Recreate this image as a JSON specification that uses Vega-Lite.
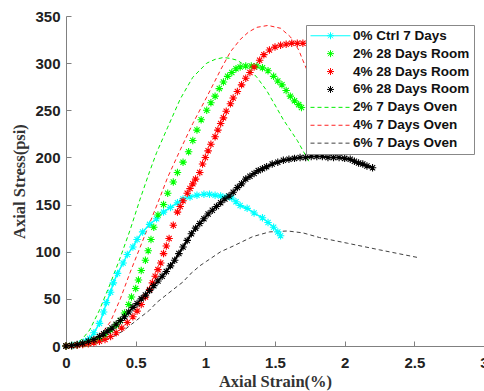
{
"$schema": "https://vega.github.io/schema/vega-lite/v6.json",
"width": 418, "height": 330,
"autosize": {"type": "none"},
"padding": {"left": 66, "top": 16, "right": 0, "bottom": 45},
"background": "white",
"config": {"view": {"stroke": null}},
"data": {"values": [
{"s":"0% Ctrl 7 Days","x":0,"y":0},{"s":"0% Ctrl 7 Days","x":0.05,"y":0.5},{"s":"0% Ctrl 7 Days","x":0.1,"y":2},{"s":"0% Ctrl 7 Days","x":0.14,"y":5},{"s":"0% Ctrl 7 Days","x":0.17,"y":8},{"s":"0% Ctrl 7 Days","x":0.2,"y":14},{"s":"0% Ctrl 7 Days","x":0.24,"y":24},{"s":"0% Ctrl 7 Days","x":0.27,"y":36},{"s":"0% Ctrl 7 Days","x":0.29,"y":46},{"s":"0% Ctrl 7 Days","x":0.32,"y":57},{"s":"0% Ctrl 7 Days","x":0.34,"y":67},{"s":"0% Ctrl 7 Days","x":0.37,"y":77},{"s":"0% Ctrl 7 Days","x":0.41,"y":88},{"s":"0% Ctrl 7 Days","x":0.44,"y":97},{"s":"0% Ctrl 7 Days","x":0.48,"y":105},{"s":"0% Ctrl 7 Days","x":0.51,"y":113},{"s":"0% Ctrl 7 Days","x":0.55,"y":121},{"s":"0% Ctrl 7 Days","x":0.6,"y":129},{"s":"0% Ctrl 7 Days","x":0.65,"y":135},{"s":"0% Ctrl 7 Days","x":0.7,"y":142},{"s":"0% Ctrl 7 Days","x":0.75,"y":147},{"s":"0% Ctrl 7 Days","x":0.8,"y":152},{"s":"0% Ctrl 7 Days","x":0.84,"y":156},{"s":"0% Ctrl 7 Days","x":0.89,"y":158},{"s":"0% Ctrl 7 Days","x":0.94,"y":160},{"s":"0% Ctrl 7 Days","x":0.99,"y":161},{"s":"0% Ctrl 7 Days","x":1.03,"y":161},{"s":"0% Ctrl 7 Days","x":1.07,"y":160},{"s":"0% Ctrl 7 Days","x":1.11,"y":159},{"s":"0% Ctrl 7 Days","x":1.15,"y":158},{"s":"0% Ctrl 7 Days","x":1.19,"y":157},{"s":"0% Ctrl 7 Days","x":1.22,"y":153},{"s":"0% Ctrl 7 Days","x":1.25,"y":149},{"s":"0% Ctrl 7 Days","x":1.3,"y":146},{"s":"0% Ctrl 7 Days","x":1.35,"y":141},{"s":"0% Ctrl 7 Days","x":1.41,"y":136},{"s":"0% Ctrl 7 Days","x":1.45,"y":131},{"s":"0% Ctrl 7 Days","x":1.49,"y":126},{"s":"0% Ctrl 7 Days","x":1.52,"y":121},{"s":"0% Ctrl 7 Days","x":1.54,"y":117},
{"s":"2% 28 Days Room","x":0,"y":0},{"s":"2% 28 Days Room","x":0.04,"y":0.5},{"s":"2% 28 Days Room","x":0.08,"y":1},{"s":"2% 28 Days Room","x":0.12,"y":2},{"s":"2% 28 Days Room","x":0.16,"y":3},{"s":"2% 28 Days Room","x":0.2,"y":5},{"s":"2% 28 Days Room","x":0.24,"y":8},{"s":"2% 28 Days Room","x":0.28,"y":12},{"s":"2% 28 Days Room","x":0.32,"y":17},{"s":"2% 28 Days Room","x":0.36,"y":22},{"s":"2% 28 Days Room","x":0.39,"y":27},{"s":"2% 28 Days Room","x":0.42,"y":35},{"s":"2% 28 Days Room","x":0.45,"y":44},{"s":"2% 28 Days Room","x":0.47,"y":52},{"s":"2% 28 Days Room","x":0.5,"y":61},{"s":"2% 28 Days Room","x":0.52,"y":70},{"s":"2% 28 Days Room","x":0.54,"y":80},{"s":"2% 28 Days Room","x":0.57,"y":91},{"s":"2% 28 Days Room","x":0.59,"y":101},{"s":"2% 28 Days Room","x":0.61,"y":113},{"s":"2% 28 Days Room","x":0.63,"y":126},{"s":"2% 28 Days Room","x":0.66,"y":139},{"s":"2% 28 Days Room","x":0.7,"y":150},{"s":"2% 28 Days Room","x":0.73,"y":162},{"s":"2% 28 Days Room","x":0.77,"y":174},{"s":"2% 28 Days Room","x":0.8,"y":184},{"s":"2% 28 Days Room","x":0.84,"y":195},{"s":"2% 28 Days Room","x":0.88,"y":206},{"s":"2% 28 Days Room","x":0.91,"y":218},{"s":"2% 28 Days Room","x":0.94,"y":229},{"s":"2% 28 Days Room","x":0.97,"y":240},{"s":"2% 28 Days Room","x":1.01,"y":250},{"s":"2% 28 Days Room","x":1.04,"y":258},{"s":"2% 28 Days Room","x":1.07,"y":265},{"s":"2% 28 Days Room","x":1.1,"y":273},{"s":"2% 28 Days Room","x":1.13,"y":280},{"s":"2% 28 Days Room","x":1.16,"y":286},{"s":"2% 28 Days Room","x":1.19,"y":290},{"s":"2% 28 Days Room","x":1.22,"y":294},{"s":"2% 28 Days Room","x":1.25,"y":296},{"s":"2% 28 Days Room","x":1.29,"y":297},{"s":"2% 28 Days Room","x":1.33,"y":297},{"s":"2% 28 Days Room","x":1.37,"y":297},{"s":"2% 28 Days Room","x":1.41,"y":295},{"s":"2% 28 Days Room","x":1.45,"y":292},{"s":"2% 28 Days Room","x":1.49,"y":286},{"s":"2% 28 Days Room","x":1.52,"y":281},{"s":"2% 28 Days Room","x":1.55,"y":277},{"s":"2% 28 Days Room","x":1.58,"y":271},{"s":"2% 28 Days Room","x":1.61,"y":265},{"s":"2% 28 Days Room","x":1.64,"y":260},{"s":"2% 28 Days Room","x":1.67,"y":256},{"s":"2% 28 Days Room","x":1.69,"y":253},
{"s":"4% 28 Days Room","x":0,"y":0},{"s":"4% 28 Days Room","x":0.04,"y":0.3},{"s":"4% 28 Days Room","x":0.08,"y":0.8},{"s":"4% 28 Days Room","x":0.12,"y":1.5},{"s":"4% 28 Days Room","x":0.16,"y":2.5},{"s":"4% 28 Days Room","x":0.2,"y":3.5},{"s":"4% 28 Days Room","x":0.24,"y":5},{"s":"4% 28 Days Room","x":0.28,"y":7},{"s":"4% 28 Days Room","x":0.32,"y":10},{"s":"4% 28 Days Room","x":0.36,"y":14},{"s":"4% 28 Days Room","x":0.4,"y":19},{"s":"4% 28 Days Room","x":0.44,"y":25},{"s":"4% 28 Days Room","x":0.48,"y":31},{"s":"4% 28 Days Room","x":0.51,"y":37},{"s":"4% 28 Days Room","x":0.54,"y":44},{"s":"4% 28 Days Room","x":0.57,"y":52},{"s":"4% 28 Days Room","x":0.6,"y":60},{"s":"4% 28 Days Room","x":0.62,"y":67},{"s":"4% 28 Days Room","x":0.64,"y":74},{"s":"4% 28 Days Room","x":0.66,"y":81},{"s":"4% 28 Days Room","x":0.68,"y":88},{"s":"4% 28 Days Room","x":0.7,"y":98},{"s":"4% 28 Days Room","x":0.72,"y":106},{"s":"4% 28 Days Room","x":0.74,"y":114},{"s":"4% 28 Days Room","x":0.77,"y":128},{"s":"4% 28 Days Room","x":0.8,"y":142},{"s":"4% 28 Days Room","x":0.82,"y":148},{"s":"4% 28 Days Room","x":0.84,"y":154},{"s":"4% 28 Days Room","x":0.87,"y":162},{"s":"4% 28 Days Room","x":0.89,"y":167},{"s":"4% 28 Days Room","x":0.91,"y":172},{"s":"4% 28 Days Room","x":0.93,"y":177},{"s":"4% 28 Days Room","x":0.96,"y":184},{"s":"4% 28 Days Room","x":0.98,"y":193},{"s":"4% 28 Days Room","x":1.0,"y":200},{"s":"4% 28 Days Room","x":1.02,"y":207},{"s":"4% 28 Days Room","x":1.04,"y":214},{"s":"4% 28 Days Room","x":1.07,"y":222},{"s":"4% 28 Days Room","x":1.09,"y":229},{"s":"4% 28 Days Room","x":1.11,"y":236},{"s":"4% 28 Days Room","x":1.13,"y":242},{"s":"4% 28 Days Room","x":1.15,"y":249},{"s":"4% 28 Days Room","x":1.18,"y":257},{"s":"4% 28 Days Room","x":1.2,"y":263},{"s":"4% 28 Days Room","x":1.23,"y":270},{"s":"4% 28 Days Room","x":1.26,"y":277},{"s":"4% 28 Days Room","x":1.29,"y":284},{"s":"4% 28 Days Room","x":1.32,"y":290},{"s":"4% 28 Days Room","x":1.35,"y":296},{"s":"4% 28 Days Room","x":1.39,"y":303},{"s":"4% 28 Days Room","x":1.42,"y":309},{"s":"4% 28 Days Room","x":1.46,"y":314},{"s":"4% 28 Days Room","x":1.5,"y":317},{"s":"4% 28 Days Room","x":1.54,"y":319},{"s":"4% 28 Days Room","x":1.58,"y":320},{"s":"4% 28 Days Room","x":1.62,"y":321},{"s":"4% 28 Days Room","x":1.66,"y":321},{"s":"4% 28 Days Room","x":1.7,"y":321},{"s":"4% 28 Days Room","x":1.74,"y":321},{"s":"4% 28 Days Room","x":1.78,"y":321},{"s":"4% 28 Days Room","x":1.82,"y":320},{"s":"4% 28 Days Room","x":1.86,"y":320},{"s":"4% 28 Days Room","x":1.9,"y":319},{"s":"4% 28 Days Room","x":1.93,"y":318},
{"s":"6% 28 Days Room","x":0,"y":0},{"s":"6% 28 Days Room","x":0.04,"y":0.5},{"s":"6% 28 Days Room","x":0.08,"y":1.5},{"s":"6% 28 Days Room","x":0.12,"y":3},{"s":"6% 28 Days Room","x":0.16,"y":5},{"s":"6% 28 Days Room","x":0.2,"y":7},{"s":"6% 28 Days Room","x":0.24,"y":10},{"s":"6% 28 Days Room","x":0.27,"y":13},{"s":"6% 28 Days Room","x":0.3,"y":16},{"s":"6% 28 Days Room","x":0.33,"y":19},{"s":"6% 28 Days Room","x":0.36,"y":23},{"s":"6% 28 Days Room","x":0.39,"y":27},{"s":"6% 28 Days Room","x":0.42,"y":31},{"s":"6% 28 Days Room","x":0.45,"y":36},{"s":"6% 28 Days Room","x":0.48,"y":41},{"s":"6% 28 Days Room","x":0.51,"y":45},{"s":"6% 28 Days Room","x":0.54,"y":50},{"s":"6% 28 Days Room","x":0.57,"y":54},{"s":"6% 28 Days Room","x":0.6,"y":59},{"s":"6% 28 Days Room","x":0.63,"y":64},{"s":"6% 28 Days Room","x":0.66,"y":69},{"s":"6% 28 Days Room","x":0.69,"y":74},{"s":"6% 28 Days Room","x":0.72,"y":79},{"s":"6% 28 Days Room","x":0.75,"y":85},{"s":"6% 28 Days Room","x":0.78,"y":91},{"s":"6% 28 Days Room","x":0.81,"y":98},{"s":"6% 28 Days Room","x":0.84,"y":105},{"s":"6% 28 Days Room","x":0.87,"y":112},{"s":"6% 28 Days Room","x":0.9,"y":119},{"s":"6% 28 Days Room","x":0.93,"y":125},{"s":"6% 28 Days Room","x":0.96,"y":130},{"s":"6% 28 Days Room","x":0.99,"y":135},{"s":"6% 28 Days Room","x":1.02,"y":140},{"s":"6% 28 Days Room","x":1.05,"y":144},{"s":"6% 28 Days Room","x":1.08,"y":148},{"s":"6% 28 Days Room","x":1.11,"y":152},{"s":"6% 28 Days Room","x":1.14,"y":156},{"s":"6% 28 Days Room","x":1.17,"y":159},{"s":"6% 28 Days Room","x":1.2,"y":163},{"s":"6% 28 Days Room","x":1.23,"y":168},{"s":"6% 28 Days Room","x":1.26,"y":172},{"s":"6% 28 Days Room","x":1.29,"y":177},{"s":"6% 28 Days Room","x":1.32,"y":180},{"s":"6% 28 Days Room","x":1.35,"y":183},{"s":"6% 28 Days Room","x":1.38,"y":186},{"s":"6% 28 Days Room","x":1.41,"y":188},{"s":"6% 28 Days Room","x":1.44,"y":190},{"s":"6% 28 Days Room","x":1.48,"y":193},{"s":"6% 28 Days Room","x":1.52,"y":195},{"s":"6% 28 Days Room","x":1.56,"y":197},{"s":"6% 28 Days Room","x":1.6,"y":198},{"s":"6% 28 Days Room","x":1.64,"y":199},{"s":"6% 28 Days Room","x":1.68,"y":200},{"s":"6% 28 Days Room","x":1.72,"y":200},{"s":"6% 28 Days Room","x":1.76,"y":201},{"s":"6% 28 Days Room","x":1.8,"y":201},{"s":"6% 28 Days Room","x":1.84,"y":201},{"s":"6% 28 Days Room","x":1.88,"y":200},{"s":"6% 28 Days Room","x":1.92,"y":200},{"s":"6% 28 Days Room","x":1.96,"y":200},{"s":"6% 28 Days Room","x":2.0,"y":199},{"s":"6% 28 Days Room","x":2.04,"y":198},{"s":"6% 28 Days Room","x":2.07,"y":196},{"s":"6% 28 Days Room","x":2.1,"y":194},{"s":"6% 28 Days Room","x":2.13,"y":193},{"s":"6% 28 Days Room","x":2.16,"y":191},{"s":"6% 28 Days Room","x":2.2,"y":189},
{"s":"2% 7 Days Oven","x":0,"y":0},{"s":"2% 7 Days Oven","x":0.04,"y":0.5},{"s":"2% 7 Days Oven","x":0.08,"y":3},{"s":"2% 7 Days Oven","x":0.12,"y":8},{"s":"2% 7 Days Oven","x":0.17,"y":17},{"s":"2% 7 Days Oven","x":0.24,"y":38},{"s":"2% 7 Days Oven","x":0.32,"y":67},{"s":"2% 7 Days Oven","x":0.39,"y":94},{"s":"2% 7 Days Oven","x":0.46,"y":123},{"s":"2% 7 Days Oven","x":0.53,"y":155},{"s":"2% 7 Days Oven","x":0.6,"y":185},{"s":"2% 7 Days Oven","x":0.65,"y":205},{"s":"2% 7 Days Oven","x":0.73,"y":232},{"s":"2% 7 Days Oven","x":0.82,"y":262},{"s":"2% 7 Days Oven","x":0.91,"y":285},{"s":"2% 7 Days Oven","x":1.01,"y":300},{"s":"2% 7 Days Oven","x":1.07,"y":304},{"s":"2% 7 Days Oven","x":1.13,"y":306},{"s":"2% 7 Days Oven","x":1.18,"y":305},{"s":"2% 7 Days Oven","x":1.23,"y":303},{"s":"2% 7 Days Oven","x":1.3,"y":296},{"s":"2% 7 Days Oven","x":1.37,"y":285},{"s":"2% 7 Days Oven","x":1.44,"y":271},{"s":"2% 7 Days Oven","x":1.51,"y":253},{"s":"2% 7 Days Oven","x":1.56,"y":240},{"s":"2% 7 Days Oven","x":1.66,"y":218},{"s":"2% 7 Days Oven","x":1.75,"y":194},
{"s":"4% 7 Days Oven","x":0,"y":0},{"s":"4% 7 Days Oven","x":0.08,"y":1},{"s":"4% 7 Days Oven","x":0.16,"y":5},{"s":"4% 7 Days Oven","x":0.22,"y":10},{"s":"4% 7 Days Oven","x":0.27,"y":16},{"s":"4% 7 Days Oven","x":0.32,"y":26},{"s":"4% 7 Days Oven","x":0.39,"y":50},{"s":"4% 7 Days Oven","x":0.46,"y":78},{"s":"4% 7 Days Oven","x":0.53,"y":104},{"s":"4% 7 Days Oven","x":0.6,"y":130},{"s":"4% 7 Days Oven","x":0.67,"y":156},{"s":"4% 7 Days Oven","x":0.73,"y":179},{"s":"4% 7 Days Oven","x":0.82,"y":208},{"s":"4% 7 Days Oven","x":0.91,"y":236},{"s":"4% 7 Days Oven","x":1.01,"y":264},{"s":"4% 7 Days Oven","x":1.11,"y":293},{"s":"4% 7 Days Oven","x":1.18,"y":312},{"s":"4% 7 Days Oven","x":1.25,"y":325},{"s":"4% 7 Days Oven","x":1.31,"y":333},{"s":"4% 7 Days Oven","x":1.37,"y":338},{"s":"4% 7 Days Oven","x":1.45,"y":340},{"s":"4% 7 Days Oven","x":1.54,"y":337},{"s":"4% 7 Days Oven","x":1.61,"y":328},{"s":"4% 7 Days Oven","x":1.67,"y":314},{"s":"4% 7 Days Oven","x":1.7,"y":303},{"s":"4% 7 Days Oven","x":1.78,"y":275},
{"s":"6% 7 Days Oven","x":0,"y":0},{"s":"6% 7 Days Oven","x":0.1,"y":1},{"s":"6% 7 Days Oven","x":0.2,"y":3},{"s":"6% 7 Days Oven","x":0.27,"y":6},{"s":"6% 7 Days Oven","x":0.34,"y":10},{"s":"6% 7 Days Oven","x":0.41,"y":16},{"s":"6% 7 Days Oven","x":0.47,"y":23},{"s":"6% 7 Days Oven","x":0.53,"y":30},{"s":"6% 7 Days Oven","x":0.6,"y":38},{"s":"6% 7 Days Oven","x":0.65,"y":46},{"s":"6% 7 Days Oven","x":0.71,"y":53},{"s":"6% 7 Days Oven","x":0.77,"y":60},{"s":"6% 7 Days Oven","x":0.84,"y":68},{"s":"6% 7 Days Oven","x":0.89,"y":76},{"s":"6% 7 Days Oven","x":0.96,"y":85},{"s":"6% 7 Days Oven","x":1.01,"y":90},{"s":"6% 7 Days Oven","x":1.11,"y":100},{"s":"6% 7 Days Oven","x":1.2,"y":106},{"s":"6% 7 Days Oven","x":1.34,"y":116},{"s":"6% 7 Days Oven","x":1.46,"y":121},{"s":"6% 7 Days Oven","x":1.59,"y":122},{"s":"6% 7 Days Oven","x":1.7,"y":120},{"s":"6% 7 Days Oven","x":1.82,"y":115},{"s":"6% 7 Days Oven","x":2.02,"y":109},{"s":"6% 7 Days Oven","x":2.25,"y":102},{"s":"6% 7 Days Oven","x":2.52,"y":94}
]},
"encoding": {
"x": {"field": "x", "type": "quantitative", "scale": {"domain": [0, 3], "nice": false},
 "axis": {"title": "Axial Strain(%)", "values": [0, 0.5, 1, 1.5, 2, 2.5, 3], "format": "~g", "grid": false, "labelFlush": false,
  "tickSize": -5, "labelPadding": 14, "titlePadding": 3, "domainColor": "#808080", "tickColor": "#808080",
  "labelFont": "Liberation Sans", "labelFontWeight": "bold", "labelFontSize": 15, "labelColor": "#222",
  "titleFont": "Liberation Serif", "titleFontWeight": "bold", "titleFontSize": 16.5, "titleColor": "#333"}},
"y": {"field": "y", "type": "quantitative", "scale": {"domain": [0, 350], "nice": false},
 "axis": {"title": "Axial Stress(psi)", "values": [0, 50, 100, 150, 200, 250, 300, 350], "grid": false,
  "tickSize": -5, "labelPadding": 11, "titlePadding": 7, "domainColor": "#808080", "tickColor": "#808080",
  "labelFont": "Liberation Sans", "labelFontWeight": "bold", "labelFontSize": 15, "labelColor": "#222",
  "titleFont": "Liberation Serif", "titleFontWeight": "bold", "titleFontSize": 16.5, "titleColor": "#333"}},
"color": {"field": "s", "type": "nominal",
 "scale": {"domain": ["0% Ctrl 7 Days", "2% 28 Days Room", "4% 28 Days Room", "6% 28 Days Room", "2% 7 Days Oven", "4% 7 Days Oven", "6% 7 Days Oven"],
  "range": ["#00ffff", "#00ff00", "#ff0000", "#000000", "#00ee00", "#ff2020", "#404040"]},
 "legend": {"orient": "none", "legendX": 240, "legendY": 9, "title": null, "padding": 4,
  "strokeColor": "#888", "fillColor": "white", "cornerRadius": 0,
  "labelFont": "Liberation Sans", "labelFontWeight": "bold", "labelFontSize": 13.5, "labelColor": "#111",
  "symbolSize": 100, "symbolStrokeWidth": 1, "labelOffset": 29.5, "rowPadding": 2.9,
  "encode": {"symbols": {"update": {
   "shape": {"signal": "datum.value == '0% Ctrl 7 Days' ? 'M-1.25,0L6.75,0M2.05,0L3.45,0M2.75,-0.7L2.75,0.7M2.25,-0.5L3.25,0.5M2.25,0.5L3.25,-0.5' : (indexof(datum.value, 'Room') >= 0 ? 'M2.05,0L3.45,0M2.75,-0.7L2.75,0.7M2.25,-0.5L3.25,0.5M2.25,0.5L3.25,-0.5' : 'M-1.25,0L6.75,0')"},
   "strokeDash": {"signal": "indexof(datum.value, 'Oven') >= 0 ? [4, 3] : []"},
   "stroke": {"scale": "color", "field": "value"},
   "fill": {"value": "transparent"},
   "strokeWidth": {"value": 1},
   "size": {"value": 100},
   "opacity": {"value": 1}
  }}}}}
},
"layer": [
 {"transform": [{"filter": "indexof(datum.s, 'Oven') >= 0"}], "mark": {"type": "line", "strokeDash": [4, 3], "strokeWidth": 1}},
 {"transform": [{"filter": "datum.s == '6% 28 Days Room'"}], "mark": {"type": "line", "strokeWidth": 2}},
 {"transform": [{"filter": "datum.s == '0% Ctrl 7 Days'"}], "mark": {"type": "line", "strokeWidth": 1.5}},
 {"transform": [{"filter": "indexof(datum.s, 'Oven') < 0"}], "mark": {"type": "point", "shape": "M-1,0L1,0M0,-1L0,1M-0.7,-0.7L0.7,0.7M-0.7,0.7L0.7,-0.7", "filled": false, "size": 56, "strokeWidth": 1.1, "opacity": 1}}
]
}
